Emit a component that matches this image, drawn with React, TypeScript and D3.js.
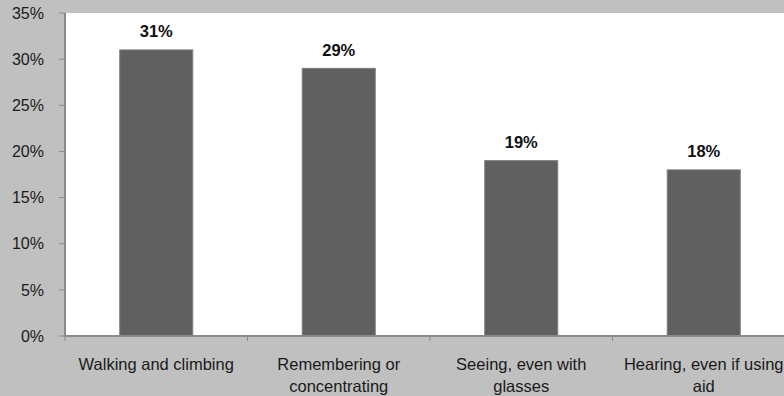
import React from "react";
import * as d3 from "d3";

// Share of people reporting difficulty, by activity
const categories = [
  "Walking and climbing",
  "Remembering or\nconcentrating",
  "Seeing, even with\nglasses",
  "Hearing, even if using\naid",
];
const values = [0.31, 0.29, 0.19, 0.18];
const yTicks = [0, 0.05, 0.1, 0.15, 0.2, 0.25, 0.3, 0.35];

const W = 784;
const H = 396;
const margin = { left: 65, top: 13, bottom: 60, right: -11 };
const FONT = "'Liberation Sans', Arial, Helvetica, sans-serif";

export default function App() {
  const x = d3
    .scaleBand<string>()
    .domain(categories)
    .range([margin.left, W - margin.right])
    .paddingInner(0.6)
    .paddingOuter(0.3);
  const y = d3
    .scaleLinear()
    .domain([0, 0.35])
    .range([H - margin.bottom, margin.top]);
  const fmt = d3.format(".0%");
  const step = x.step();
  const x0 = margin.left;
  const x1 = W - margin.right;
  const yBase = y(0);
  const boundaries = d3.range(categories.length + 1).map((i) => x0 + i * step);

  return (
    <svg
      width={W}
      height={H}
      style={{ position: "fixed", left: 0, top: 0, display: "block" }}
      fontFamily={FONT}
    >
      <rect x={0} y={0} width={W} height={H} fill="#c0c0c0" />
      <rect x={x0} y={y(0.35)} width={x1 - x0} height={yBase - y(0.35)} fill="#ffffff" />

      {/* bars */}
      {categories.map((c, i) => (
        <rect
          key={c}
          x={x(c)!}
          y={y(values[i])}
          width={x.bandwidth()}
          height={yBase - y(values[i])}
          fill="#606060"
          stroke="#7c7c7c"
          strokeWidth={1}
        />
      ))}

      {/* value labels */}
      {categories.map((c, i) => (
        <text
          key={c}
          x={x(c)! + x.bandwidth() / 2}
          y={y(values[i]) - 12.5}
          textAnchor="middle"
          fontSize={16.5}
          fontWeight="bold"
          fill="#111"
        >
          {fmt(values[i])}
        </text>
      ))}

      {/* y axis */}
      <line x1={x0} x2={x0} y1={y(0.35)} y2={yBase} stroke="#8a8a8a" strokeWidth={2} />
      {yTicks.map((t) => (
        <g key={t}>
          <line x1={x0 - 6} x2={x0} y1={y(t)} y2={y(t)} stroke="#8a8a8a" strokeWidth={1} />
          <text
            x={44}
            y={y(t)}
            dy="0.36em"
            textAnchor="end"
            fontSize={16}
            fill="#1a1a1a"
          >
            {fmt(t)}
          </text>
        </g>
      ))}

      {/* x axis */}
      <line x1={x0} x2={x1} y1={yBase} y2={yBase} stroke="#8a8a8a" strokeWidth={2} />
      {boundaries.map((b) => (
        <line key={b} x1={b} x2={b} y1={yBase} y2={yBase + 5} stroke="#8a8a8a" strokeWidth={1} />
      ))}
      {categories.map((c) => (
        <text
          key={c}
          x={x(c)! + x.bandwidth() / 2}
          y={370}
          textAnchor="middle"
          fontSize={16.5}
          fill="#1a1a1a"
        >
          {c.split("\n").map((line, j) => (
            <tspan key={j} x={x(c)! + x.bandwidth() / 2} dy={j === 0 ? 0 : 22}>
              {line}
            </tspan>
          ))}
        </text>
      ))}
    </svg>
  );
}
